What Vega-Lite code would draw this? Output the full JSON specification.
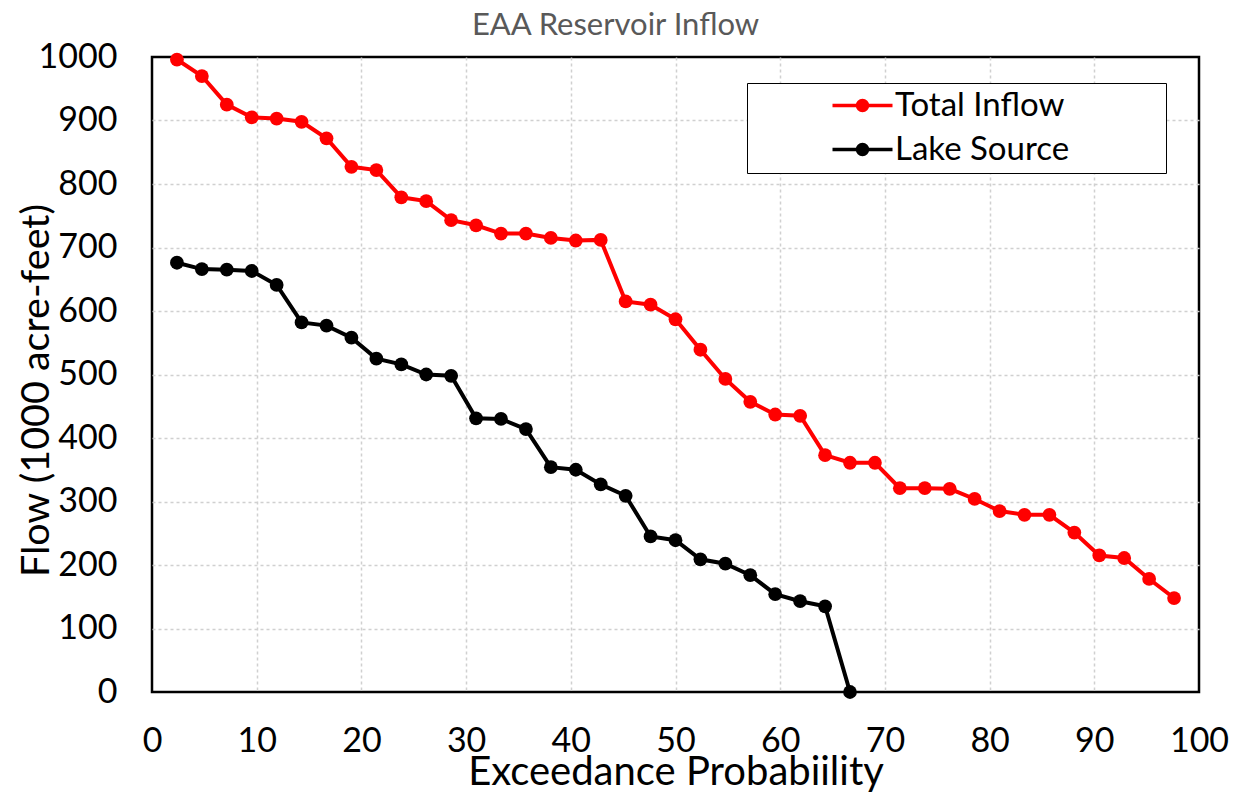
{
  "$schema": "https://vega.github.io/schema/vega-lite/v6.json",
  "width": 1047,
  "height": 635,
  "autosize": {"type": "none"},
  "padding": {"left": 152, "top": 57, "right": 39, "bottom": 107},
  "background": "white",
  "title": {
    "text": "EAA Reservoir Inflow",
    "font": "Lato",
    "fontSize": 31,
    "fontWeight": "normal",
    "color": "#595959",
    "anchor": "middle",
    "frame": "group",
    "dx": -60,
    "dy": 24,
    "offset": 22
  },
  "config": {
    "font": "Lato",
    "view": {"stroke": "black", "strokeWidth": 2.5},
    "axis": {
      "grid": true,
      "gridColor": "#d0d0d0",
      "gridDash": [3, 3],
      "gridWidth": 1.5,
      "domain": false,
      "ticks": false,
      "tickSize": 0,
      "labelFont": "Lato",
      "labelFontSize": 34,
      "labelColor": "black",
      "labelFlush": false,
      "labelOverlap": false,
      "titleFont": "Lato",
      "titleFontWeight": "normal",
      "titleColor": "black"
    }
  },
  "data": {
    "values": [
      {"series": "Total Inflow", "p": 2.381, "flow": 996},
      {"series": "Total Inflow", "p": 4.762, "flow": 970},
      {"series": "Total Inflow", "p": 7.143, "flow": 925},
      {"series": "Total Inflow", "p": 9.524, "flow": 905},
      {"series": "Total Inflow", "p": 11.905, "flow": 903},
      {"series": "Total Inflow", "p": 14.286, "flow": 898},
      {"series": "Total Inflow", "p": 16.667, "flow": 872},
      {"series": "Total Inflow", "p": 19.048, "flow": 827},
      {"series": "Total Inflow", "p": 21.429, "flow": 822},
      {"series": "Total Inflow", "p": 23.81, "flow": 779},
      {"series": "Total Inflow", "p": 26.19, "flow": 773},
      {"series": "Total Inflow", "p": 28.571, "flow": 743},
      {"series": "Total Inflow", "p": 30.952, "flow": 735},
      {"series": "Total Inflow", "p": 33.333, "flow": 722},
      {"series": "Total Inflow", "p": 35.714, "flow": 722},
      {"series": "Total Inflow", "p": 38.095, "flow": 715},
      {"series": "Total Inflow", "p": 40.476, "flow": 711},
      {"series": "Total Inflow", "p": 42.857, "flow": 712},
      {"series": "Total Inflow", "p": 45.238, "flow": 615},
      {"series": "Total Inflow", "p": 47.619, "flow": 610},
      {"series": "Total Inflow", "p": 50.0, "flow": 587},
      {"series": "Total Inflow", "p": 52.381, "flow": 539},
      {"series": "Total Inflow", "p": 54.762, "flow": 493},
      {"series": "Total Inflow", "p": 57.143, "flow": 457},
      {"series": "Total Inflow", "p": 59.524, "flow": 437},
      {"series": "Total Inflow", "p": 61.905, "flow": 435},
      {"series": "Total Inflow", "p": 64.286, "flow": 373},
      {"series": "Total Inflow", "p": 66.667, "flow": 361},
      {"series": "Total Inflow", "p": 69.048, "flow": 361},
      {"series": "Total Inflow", "p": 71.429, "flow": 321},
      {"series": "Total Inflow", "p": 73.81, "flow": 321},
      {"series": "Total Inflow", "p": 76.19, "flow": 320},
      {"series": "Total Inflow", "p": 78.571, "flow": 304},
      {"series": "Total Inflow", "p": 80.952, "flow": 285},
      {"series": "Total Inflow", "p": 83.333, "flow": 279},
      {"series": "Total Inflow", "p": 85.714, "flow": 279},
      {"series": "Total Inflow", "p": 88.095, "flow": 251},
      {"series": "Total Inflow", "p": 90.476, "flow": 215},
      {"series": "Total Inflow", "p": 92.857, "flow": 211},
      {"series": "Total Inflow", "p": 95.238, "flow": 178},
      {"series": "Total Inflow", "p": 97.619, "flow": 148},
      {"series": "Lake Source", "p": 2.381, "flow": 676},
      {"series": "Lake Source", "p": 4.762, "flow": 666},
      {"series": "Lake Source", "p": 7.143, "flow": 665},
      {"series": "Lake Source", "p": 9.524, "flow": 663},
      {"series": "Lake Source", "p": 11.905, "flow": 641},
      {"series": "Lake Source", "p": 14.286, "flow": 582},
      {"series": "Lake Source", "p": 16.667, "flow": 577},
      {"series": "Lake Source", "p": 19.048, "flow": 558},
      {"series": "Lake Source", "p": 21.429, "flow": 525},
      {"series": "Lake Source", "p": 23.81, "flow": 516},
      {"series": "Lake Source", "p": 26.19, "flow": 500},
      {"series": "Lake Source", "p": 28.571, "flow": 498},
      {"series": "Lake Source", "p": 30.952, "flow": 431},
      {"series": "Lake Source", "p": 33.333, "flow": 430},
      {"series": "Lake Source", "p": 35.714, "flow": 414},
      {"series": "Lake Source", "p": 38.095, "flow": 354},
      {"series": "Lake Source", "p": 40.476, "flow": 350},
      {"series": "Lake Source", "p": 42.857, "flow": 327},
      {"series": "Lake Source", "p": 45.238, "flow": 309},
      {"series": "Lake Source", "p": 47.619, "flow": 245},
      {"series": "Lake Source", "p": 50.0, "flow": 239},
      {"series": "Lake Source", "p": 52.381, "flow": 209},
      {"series": "Lake Source", "p": 54.762, "flow": 202},
      {"series": "Lake Source", "p": 57.143, "flow": 184},
      {"series": "Lake Source", "p": 59.524, "flow": 154},
      {"series": "Lake Source", "p": 61.905, "flow": 143},
      {"series": "Lake Source", "p": 64.286, "flow": 135},
      {"series": "Lake Source", "p": 66.667, "flow": 0}
    ]
  },
  "encoding": {
    "x": {
      "field": "p",
      "type": "quantitative",
      "scale": {"domain": [0, 100], "nice": false},
      "axis": {
        "values": [0, 10, 20, 30, 40, 50, 60, 70, 80, 90, 100],
        "format": "d",
        "title": "Exceedance Probabiility",
        "titleFontSize": 40,
        "labelBaseline": "alphabetic",
        "labelPadding": 59,
        "titleBaseline": "alphabetic",
        "titleY": 92,
        "gridOpacity": {"condition": {"test": "datum.value === 0 || datum.value === 100", "value": 0}, "value": 1}
      }
    },
    "y": {
      "field": "flow",
      "type": "quantitative",
      "scale": {"domain": [0, 1000], "nice": false},
      "axis": {
        "values": [0, 100, 200, 300, 400, 500, 600, 700, 800, 900, 1000],
        "format": "d",
        "title": "Flow (1000 acre-feet)",
        "titleFontSize": 39.5,
        "labelPadding": 35,
        "titleBaseline": "alphabetic",
        "titleX": -104,
        "titleY": 333,
        "titleAngle": -90,
        "gridOpacity": {"condition": {"test": "datum.value === 0 || datum.value === 1000", "value": 0}, "value": 1}
      }
    },
    "color": {
      "field": "series",
      "type": "nominal",
      "scale": {"domain": ["Total Inflow", "Lake Source"], "range": ["#ff0000", "#000000"]},
      "legend": {
        "title": null,
        "orient": "none",
        "legendX": 595,
        "legendY": 26,
        "strokeColor": "black",
        "fillColor": "white",
        "padding": 6,
        "symbolType": "M-3,0H3M0.5,0A0.5,0.5,0,1,1,-0.5,0A0.5,0.5,0,1,1,0.5,0ZM29,0",
        "symbolSize": 400,
        "symbolStrokeWidth": 3.5,
        "symbolOffset": 93,
        "labelOffset": 16,
        "labelFontSize": 33,
        "labelFont": "Lato",
        "labelColor": "black",
        "labelLimit": 600,
        "rowPadding": 10,
        "encode": {
          "symbols": {
            "update": {
              "fill": {"scale": "color", "field": "value"},
              "stroke": {"scale": "color", "field": "value"},
              "opacity": {"value": 1}
            }
          }
        }
      }
    }
  },
  "layer": [
    {"mark": {"type": "line", "strokeWidth": 4}},
    {"mark": {"type": "circle", "size": 190, "opacity": 1}}
  ]
}
